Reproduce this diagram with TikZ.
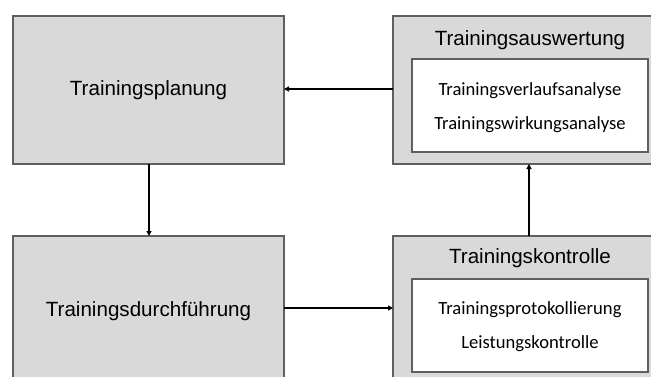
\documentclass[tikz,border=0pt]{standalone}
\usepackage{fontspec}
\setmainfont{Liberation Sans}
\newfontfamily\calfont{Carlito}
\usetikzlibrary{arrows.meta}
\definecolor{boxgrey}{HTML}{D9D9D9}
\definecolor{edgegrey}{HTML}{5F5F5F}
\begin{document}
\begin{tikzpicture}[x=1pt,y=-1pt,
  phase/.style={draw=edgegrey,line width=1.1pt,fill=boxgrey},
  inner/.style={draw=edgegrey,line width=1.1pt,fill=white},
  flow/.style={line width=1.4pt,-{Triangle[length=5pt,width=5pt]}},
  title/.style={font=\fontsize{20.6}{24}\selectfont,anchor=center},
  item/.style={font=\calfont\fontsize{18.6}{22}\selectfont,anchor=center}]
\useasboundingbox (0,0) rectangle (651,376);
\clip (0,0) rectangle (651,376);
% left column
\draw[phase] (13,16) rectangle (284,164);
\node[title] (plan) at (148.5,90) {Trainingsplanung};
\draw[phase] (13,236) rectangle (284,384);
\node[title] (durch) at (148.5,311) {Trainingsdurchführung};
% right column
\draw[phase] (393,16) rectangle (667,164);
\node[title] (ausw) at (530,40) {Trainingsauswertung};
\draw[inner] (412,59) rectangle (648,152);
\node[item] (verl) at (530,91) {Trainingsverlaufsanalyse};
\node[item] (wirk) at (530,125) {Trainingswirkungsanalyse};
\draw[phase] (393,236) rectangle (667,384);
\node[title] (kontr) at (530,258) {Trainingskontrolle};
\draw[inner] (412,279) rectangle (648,372);
\node[item] (prot) at (530,310) {Trainingsprotokollierung};
\node[item] (leist) at (530,344) {Leistungskontrolle};
% connectors between the phases
\coordinate (planR) at (284,89);
\coordinate (auswL) at (393,89);
\coordinate (planB) at (149,164);
\coordinate (durchT) at (149,236);
\coordinate (durchR) at (284,308);
\coordinate (kontrL) at (393,308);
\coordinate (kontrT) at (529,236);
\coordinate (auswB) at (529,164);
\draw[flow] (auswL) -- (planR);
\draw[flow] (planB) -- (durchT);
\draw[flow] (durchR) -- (kontrL);
\draw[flow] (kontrT) -- (auswB);
\end{tikzpicture}
\end{document}
